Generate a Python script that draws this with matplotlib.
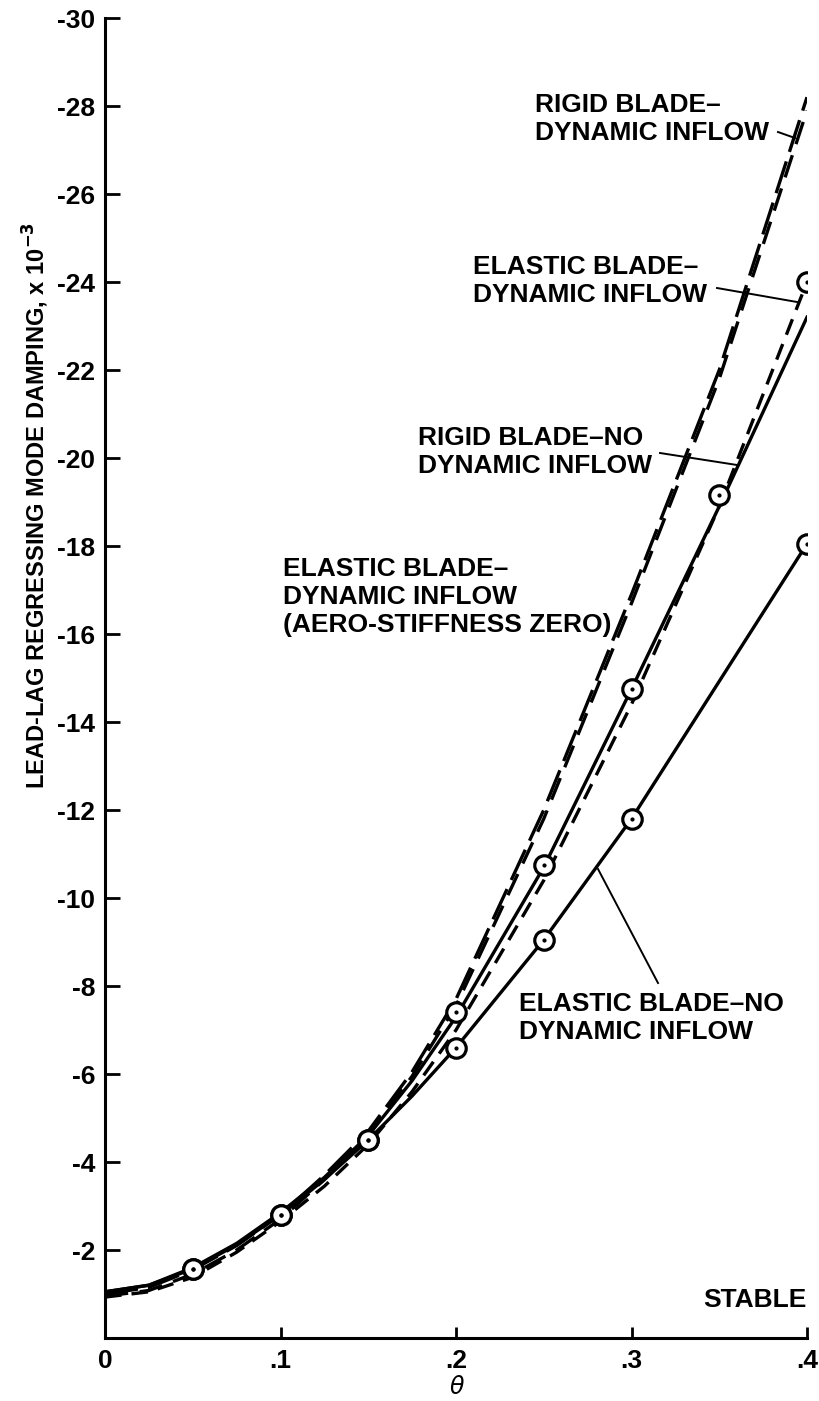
import matplotlib
matplotlib.use("Agg")
import matplotlib.pyplot as plt
from matplotlib.lines import Line2D

plt.rcParams['font.family'] = ['Liberation Sans', 'DejaVu Sans']

# ---- data (damping x 1e-3, negative = stable) ----
theta_curve = [0.0, 0.025, 0.05, 0.075, 0.1, 0.125, 0.15, 0.175, 0.2, 0.25, 0.3, 0.35, 0.4]
rigid_di      = [-1.00, -1.15, -1.55, -2.10, -2.80, -3.70, -4.70, -6.05, -7.70, -12.00, -16.90, -22.00, -28.20]
elastic_di_z0 = [-0.95, -1.08, -1.45, -2.00, -2.70, -3.60, -4.60, -5.95, -7.55, -11.80, -16.70, -21.80, -27.90]
rigid_nodi    = [-1.05, -1.20, -1.60, -2.15, -2.85, -3.65, -4.60, -5.85, -7.30, -10.70, -14.75, -18.90, -23.20]
elastic_di    = [-0.93, -1.05, -1.38, -1.95, -2.65, -3.45, -4.40, -5.60, -7.00, -10.40, -14.40, -18.90, -24.00]

theta_pts_di = [0.05, 0.1, 0.15, 0.2, 0.25, 0.3, 0.35, 0.4]
elastic_di_pts = [-1.57, -2.80, -4.50, -7.40, -10.75, -14.75, -19.15, -24.00]

theta_nodi = [0.0, 0.025, 0.05, 0.075, 0.1, 0.125, 0.15, 0.175, 0.2, 0.25, 0.3, 0.4]
elastic_nodi = [-1.05, -1.20, -1.57, -2.12, -2.80, -3.60, -4.50, -5.50, -6.60, -9.05, -11.80, -18.05]
theta_pts_nodi = [0.05, 0.1, 0.15, 0.2, 0.25, 0.3, 0.4]
elastic_nodi_pts = [-1.57, -2.80, -4.50, -6.60, -9.05, -11.80, -18.05]

xticks = [0, 0.1, 0.2, 0.3, 0.4]
xticklabels = ["0", ".1", ".2", ".3", ".4"]
yticks = list(range(-2, -31, -2))
yticklabels = [f"-{abs(v)}" for v in yticks]

W, H = 819, 1401
fig = plt.figure(figsize=(W / 100, H / 100), dpi=100)
ax = fig.add_axes([105 / W, 1 - 1338 / H, (807 - 105) / W, (1338 - 18) / H])

lw = 2.4
ax.plot(theta_curve, rigid_di, color='black', lw=lw, dashes=(10, 3))
ax.plot(theta_curve, elastic_di_z0, color='black', lw=lw, dashes=(7, 3.5))
ax.plot(theta_curve, rigid_nodi, color='black', lw=lw)
ax.plot(theta_curve, elastic_di, color='black', lw=lw, dashes=(5, 3))
ax.plot(theta_nodi, elastic_nodi, color='black', lw=lw)

for xs, ys in [(theta_pts_di, elastic_di_pts), (theta_pts_nodi, elastic_nodi_pts)]:
    ax.plot(xs, ys, linestyle='none', marker='o', ms=14, mfc='white', mec='black', mew=2.3, zorder=5)
    ax.plot(xs, ys, linestyle='none', marker='o', ms=2, mfc='black', mec='black', zorder=6)

ax.set_xlim(0, 0.4)
ax.set_ylim(0, -30)
for s in ['top', 'right']:
    ax.spines[s].set_visible(False)
for s in ['left', 'bottom']:
    ax.spines[s].set_linewidth(2.2)

ax.set_xticks(xticks)
ax.set_xticklabels(xticklabels)
ax.set_yticks(yticks)
ax.set_yticklabels(yticklabels)
ax.tick_params(axis='both', direction='in', width=2, labelsize=19)
ax.tick_params(axis='y', length=11, pad=7)
ax.tick_params(axis='x', length=8, pad=8)
for lab in ax.get_xticklabels() + ax.get_yticklabels():
    lab.set_fontweight('bold')

def fx(px):
    return px / W

def fy(py):
    return 1 - py / H

tkw = dict(fontsize=19, fontweight='bold', linespacing=1.2, transform=fig.transFigure, va='center', ha='left')
fig.text(fx(535), fy(119), "RIGID BLADE\u2013\nDYNAMIC INFLOW", **tkw)
fig.text(fx(473), fy(281), "ELASTIC BLADE\u2013\nDYNAMIC INFLOW", **tkw)
fig.text(fx(418), fy(452), "RIGID BLADE\u2013NO\nDYNAMIC INFLOW", **tkw)
fig.text(fx(283), fy(597), "ELASTIC BLADE\u2013\nDYNAMIC INFLOW\n(AERO-STIFFNESS ZERO)", **tkw)
fig.text(fx(519), fy(1018), "ELASTIC BLADE\u2013NO\nDYNAMIC INFLOW", **tkw)
fig.text(fx(807), fy(1300), "STABLE", fontsize=19, fontweight='bold', transform=fig.transFigure,
         va='center', ha='right')

for (x0, y0, x1, y1) in [(778, 132, 795, 138), (717, 288, 797, 302), (660, 453, 737, 465), (658, 983, 598, 869)]:
    fig.add_artist(Line2D([fx(x0), fx(x1)], [fy(y0), fy(y1)], color='black', lw=1.4,
                          transform=fig.transFigure))

fig.text(fx(36), fy(505), "LEAD-LAG REGRESSING MODE DAMPING, x 10$^{\\mathbf{-3}}$", rotation=90,
         fontsize=17, fontweight='bold', transform=fig.transFigure, va='center', ha='center')
fig.text(fx(457), fy(1388), "$\\theta$", fontsize=17, transform=fig.transFigure, va='center', ha='center')

fig.savefig("out.png", dpi=100)
